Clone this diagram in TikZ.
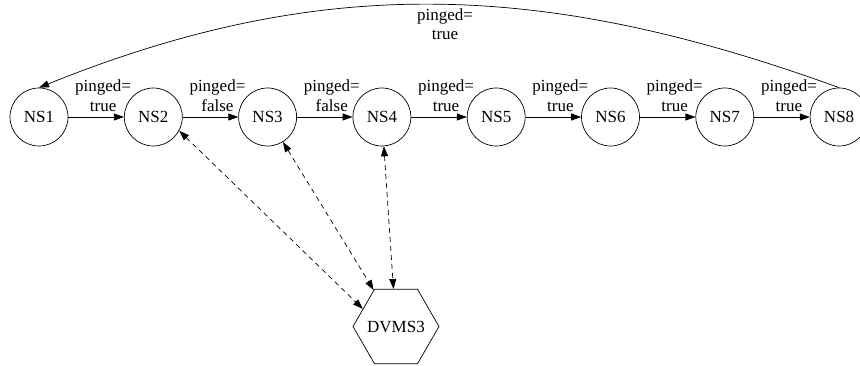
\documentclass[tikz,border=0pt]{standalone}
\usepackage{fontspec}
\setmainfont{Liberation Serif}
\usetikzlibrary{arrows.meta, shapes.geometric}

\tikzset{ns/.style={draw, circle, minimum size=58pt, inner sep=0pt, line width=0.7pt, font=\fontsize{17}{20}\selectfont},
    dvms/.style={draw, regular polygon, regular polygon sides=6, minimum size=86pt, inner sep=-10pt, line width=0.7pt, font=\fontsize{17}{20}\selectfont},
    lbl/.style={align=center, inner sep=1pt, font=\fontsize{17}{19.5}\selectfont},
    arr/.style={-{Triangle[length=10pt, width=7pt]}, line width=0.7pt},
    darr/.style={{Triangle[length=10pt, width=7pt]}-{Triangle[length=10pt, width=7pt]}, dash pattern=on 5pt off 4pt, line width=0.7pt}}

\begin{document}
\begin{tikzpicture}[x=1pt, y=1pt]
    \useasboundingbox (0,0) rectangle (860,365);

    \node[ns] (ns1) at (39,248) {NS1};
    \node[ns] (ns2) at ([xshift=114.3pt] ns1) {NS2};
    \node[ns] (ns3) at ([xshift=114.3pt] ns2) {NS3};
    \node[ns] (ns4) at ([xshift=114.3pt] ns3) {NS4};
    \node[ns] (ns5) at ([xshift=114.3pt] ns4) {NS5};
    \node[ns] (ns6) at ([xshift=114.3pt] ns5) {NS6};
    \node[ns] (ns7) at ([xshift=114.3pt] ns6) {NS7};
    \node[ns] (ns8) at ([xshift=114.3pt] ns7) {NS8};

    \node[dvms] (dvms3) at (396,38.5) {DVMS3};

    \draw[arr] (ns1) -- node[lbl, above=4pt, xshift=7pt] {pinged=\\true} (ns2);
    \draw[arr] (ns2) -- node[lbl, above=4pt, xshift=7pt] {pinged=\\false} (ns3);
    \draw[arr] (ns3) -- node[lbl, above=4pt, xshift=7pt] {pinged=\\false} (ns4);
    \draw[arr] (ns4) -- node[lbl, above=4pt, xshift=7pt] {pinged=\\true} (ns5);
    \draw[arr] (ns5) -- node[lbl, above=4pt, xshift=7pt] {pinged=\\true} (ns6);
    \draw[arr] (ns6) -- node[lbl, above=4pt, xshift=7pt] {pinged=\\true} (ns7);
    \draw[arr] (ns7) -- node[lbl, above=4pt, xshift=7pt] {pinged=\\true} (ns8);

    \draw[arr] (ns8.north) .. controls (548,383) and (325,393) .. (ns1.north);
    \node[lbl] (back) at (445,341) {pinged=\\true};

    \draw[darr] (ns2.-28) -- (dvms3.152);
    \draw[darr] (ns3) -- (dvms3);
    \draw[darr] (ns4) -- (dvms3);

\end{tikzpicture}
\end{document}
